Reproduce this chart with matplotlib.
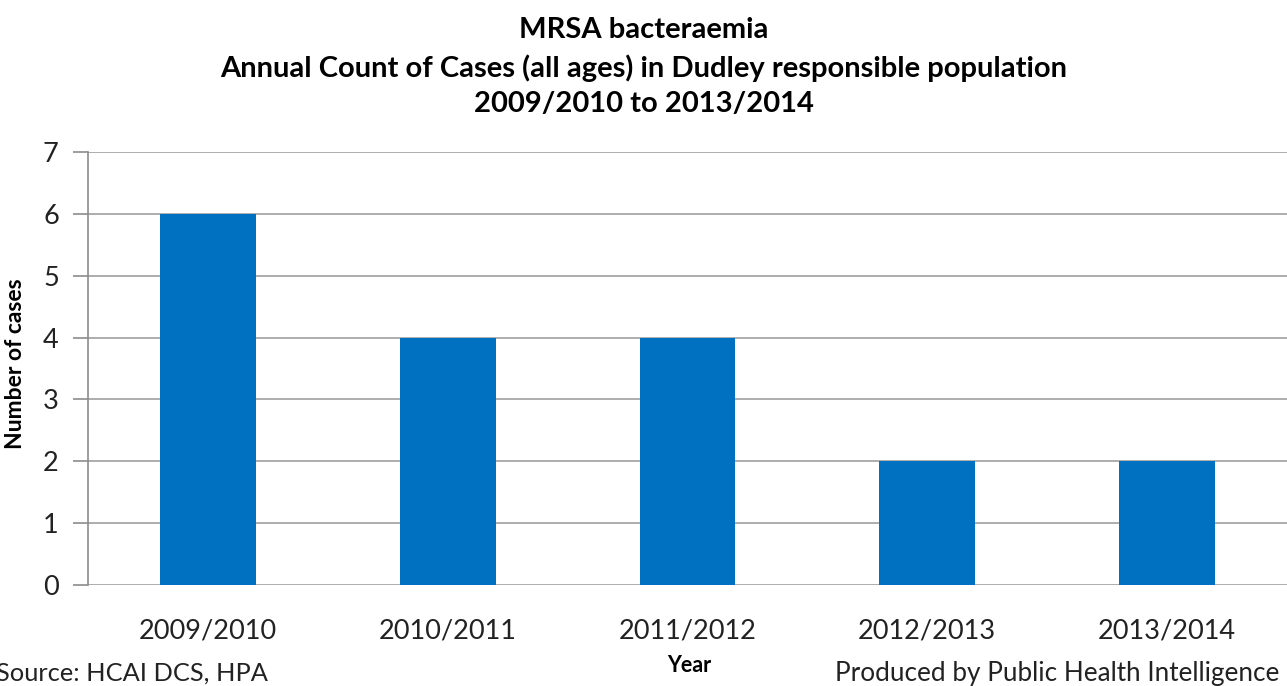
import matplotlib
matplotlib.use("Agg")
import matplotlib.pyplot as plt

categories = ["2009/2010", "2010/2011", "2011/2012", "2012/2013", "2013/2014"]
cases = [6, 4, 4, 2, 2]
yticks = [0, 1, 2, 3, 4, 5, 6, 7]

plt.rcParams['font.family'] = ['Lato', 'DejaVu Sans']

fig = plt.figure(figsize=(12.87, 6.86), dpi=100)
ax = fig.add_axes([88/1287, 1-585/686, 1-88/1287, (585-152)/686])

x = list(range(len(categories)))
ax.bar(x, cases, width=0.4, color="#0070C0", zorder=3)
ax.set_xlim(-0.5, len(categories)-0.5)
ax.set_ylim(0, 7)
ax.set_yticks(yticks)
ax.set_xticks(x)
ax.set_xticklabels(categories, fontsize=19.5, color="#222222")
ax.tick_params(axis='y', labelsize=19.5, colors="#222222", length=11, width=1.2, color="#8c8c8c", pad=10)
ax.tick_params(axis='x', length=0, pad=24)
ax.yaxis.grid(True, color="#a0a0a0", linewidth=1.2, zorder=0)
for s in ["top", "right", "bottom"]:
    ax.spines[s].set_visible(False)
ax.spines["left"].set_color("#8c8c8c")
ax.spines["left"].set_linewidth(1.2)

ax.set_ylabel("Number of cases", fontsize=16.5, fontweight="bold", labelpad=8)
ax.yaxis.set_label_coords(-62/1199, 0.51)

fig.text(0.5, 1-30/686, "MRSA bacteraemia", ha="center", va="center", fontsize=21, fontweight="bold")
fig.text(0.5, 1-68/686, "Annual Count of Cases (all ages) in Dudley responsible population", ha="center", va="center", fontsize=21, fontweight="bold")
fig.text(0.5, 1-104/686, "2009/2010 to 2013/2014", ha="center", va="center", fontsize=21, fontweight="bold")

fig.text(689/1287, 1-665/686, "Year", ha="center", va="center", fontsize=15.5, fontweight="bold")
fig.text(-4/1287, 1-673/686, "Source: HCAI DCS, HPA", ha="left", va="center", fontsize=18.3, color="#222222")
fig.text(835/1287, 1-673/686, "Produced by Public Health Intelligence", ha="left", va="center", fontsize=18.8, color="#222222")

fig.savefig("out.png", dpi=100)
